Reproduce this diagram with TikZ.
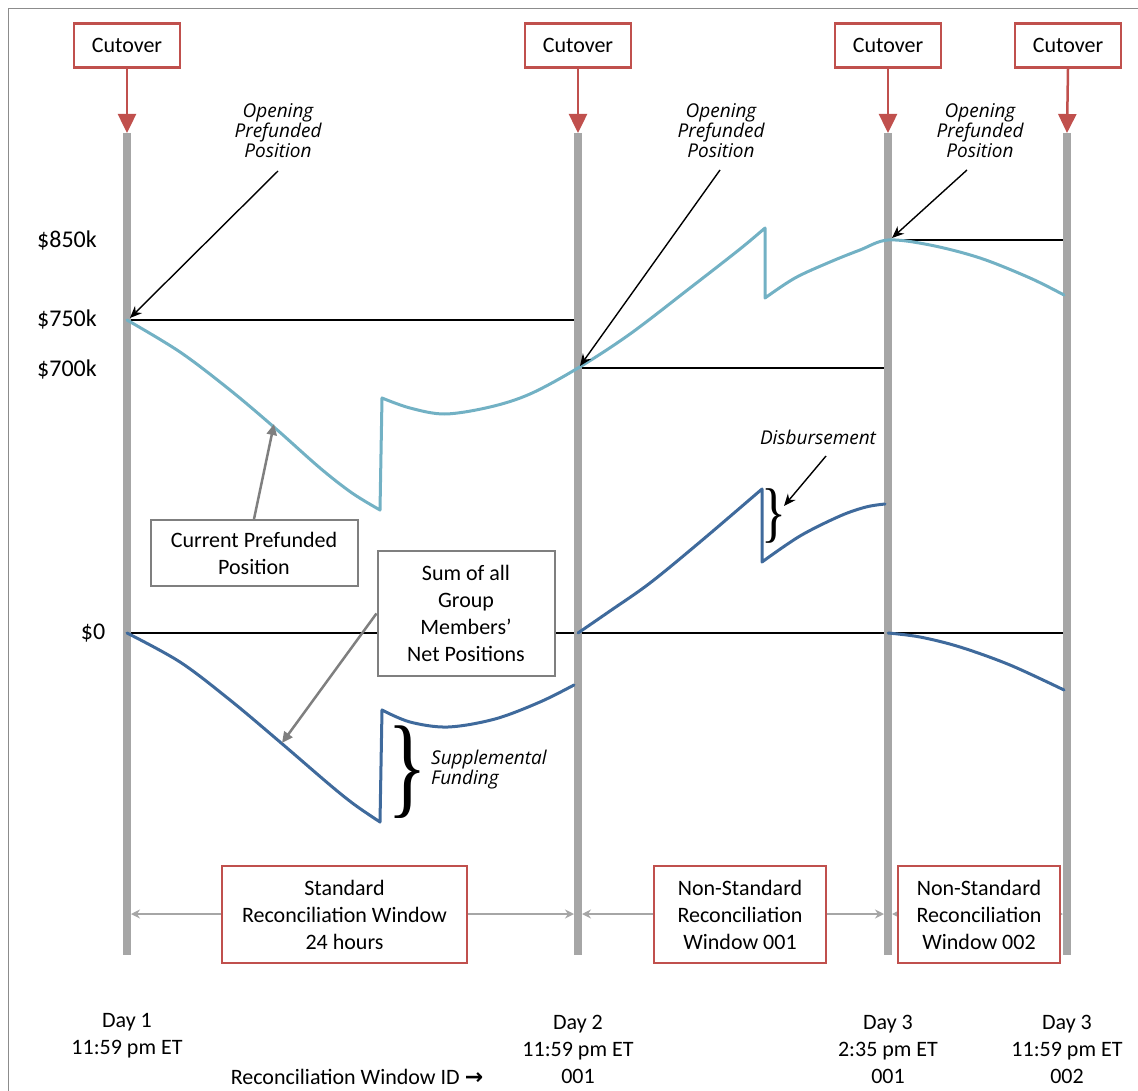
\documentclass[tikz,border=0pt]{standalone}
\usepackage{fontspec}
\setmainfont{Carlito}
\newfontfamily\notefont{Open Sans}
\newfontfamily\symfont{DejaVu Sans}
\newfontfamily\bracefont{Liberation Serif}
\usetikzlibrary{arrows.meta}

\definecolor{cutred}{HTML}{C0504D}
\definecolor{bargray}{HTML}{A6A6A6}
\definecolor{prefund}{HTML}{72B1C4}
\definecolor{netpos}{HTML}{3F6A9C}
\definecolor{boxgray}{HTML}{7F7F7F}
\definecolor{framegray}{HTML}{8C8C8C}

\begin{document}
\begin{tikzpicture}[x=1pt,y=-1pt,
  txt/.style={font=\fontsize{22}{27}\selectfont, align=center, inner sep=0pt},
  money/.style={font=\fontsize{24}{27}\selectfont, inner sep=0pt},
  note/.style={font=\notefont\itshape\fontsize{19}{20}\selectfont, align=center, inner sep=0pt},
  cutbox/.style={draw=cutred, line width=2.5pt, fill=white, minimum width=106pt,
    minimum height=44pt, font=\fontsize{22}{27}\selectfont, inner sep=0pt},
  winbox/.style={draw=cutred, line width=2pt, fill=white, minimum height=97pt,
    align=center, font=\fontsize{22}{27}\selectfont, inner sep=0pt},
  graybox/.style={draw=boxgray, line width=2pt, fill=white, align=center,
    font=\fontsize{22}{27}\selectfont, inner sep=0pt},
  cutarrow/.style={draw=cutred, line width=2.5pt, -{Triangle[length=19pt,width=18pt]}},
  timebar/.style={draw=bargray, line width=8pt},
  level/.style={draw=black, line width=1.3pt},
  openarrow/.style={draw=black, line width=1.4pt, -{Stealth[length=12pt,width=10pt]}},
  grayarrow/.style={draw=boxgray, line width=2.5pt, -{Triangle[length=11pt,width=10pt]}},
  span/.style={draw=bargray, line width=2pt, {Stealth[length=9pt,width=9pt]}-{Stealth[length=9pt,width=9pt]}},
  prefline/.style={draw=prefund, line width=3pt, line join=round, line cap=round},
  netline/.style={draw=netpos, line width=3pt, line join=round, line cap=round},
  bracemark/.style={inner sep=0pt}
]
\useasboundingbox (0,0) rectangle (1138,1091);

% frame
\draw[framegray, line width=1pt] (8,1091) -- (8,9) -- (1138,9);

% time bars
\coordinate (b1t) at (127,133); \coordinate (b1b) at (127,955);
\coordinate (b2t) at (578,133); \coordinate (b2b) at (578,955);
\coordinate (b3t) at (888,133); \coordinate (b3b) at (888,955);
\coordinate (b4t) at (1067,133); \coordinate (b4b) at (1067,955);

% level lines
\coordinate (l750a) at (127,320); \coordinate (l750b) at (574,320);
\coordinate (l700a) at (578,368); \coordinate (l700b) at (885,368);
\coordinate (l850a) at (888,240); \coordinate (l850b) at (1064,240);
\coordinate (l0a) at (127,633); \coordinate (l0b) at (1064,633);
\draw[level] (l750a) -- (l750b);
\draw[level] (l700a) -- (l700b);
\draw[level] (l850a) -- (l850b);
\draw[level] (l0a) -- (l0b);

\draw[timebar] (b1t) -- (b1b);
\draw[timebar] (b2t) -- (b2b);
\draw[timebar] (b3t) -- (b3b);
\draw[timebar] (b4t) -- (b4b);

% cutover markers
\node[cutbox] (c1) at (127,45.5) {Cutover};
\node[cutbox] (c2) at (578,45.5) {Cutover};
\node[cutbox] (c3) at (888,45.5) {Cutover};
\node[cutbox] (c4) at (1068,45.5) {Cutover};
\draw[cutarrow] (c1.south) -- (b1t);
\draw[cutarrow] (c2.south) -- (b2t);
\draw[cutarrow] (c3.south) -- (b3t);
\draw[cutarrow] (c4.south) -- (b4t);

% value labels
\node[money] (v850) at (67,241) {\$850k};
\node[money] (v750) at (67,320) {\$750k};
\node[money] (v700) at (67,370) {\$700k};
\node[money] (v0) at (93,633) {\$0};

% current prefunded position
\draw[prefline] plot[smooth, tension=0.55] coordinates {(127,320) (180,352) (230,390) (275,428) (320,468) (352,493) (380,510)}
  -- plot[smooth, tension=0.55] coordinates {(382,398) (410,408) (445,414) (490,407) (530,394) (578,368) (630,334) (690,288) (740,249) (765,228)}
  -- plot[smooth, tension=0.55] coordinates {(765,298) (795,278) (830,262) (860,250) (888,240) (930,245) (980,258) (1030,278) (1064,295)};

% sum of net positions
\draw[netline] plot[smooth, tension=0.55] coordinates {(127,633) (180,662) (230,700) (280,742) (330,785) (355,805) (380,822)}
  -- plot[smooth, tension=0.55] coordinates {(382,710) (410,722) (448,727) (495,719) (540,702) (574,685)};
\draw[netline] plot[smooth, tension=0.55] coordinates {(578,633) (610,611) (650,583) (700,542) (762,489)}
  -- plot[smooth, tension=0.55] coordinates {(762,562) (800,536) (840,516) (866,507) (885,504)};
\draw[netline] plot[smooth, tension=0.55] coordinates {(888,633) (920,637) (960,647) (1010,665) (1064,690)};

% opening prefunded position notes
\node[note] (op1) at (278,131) {Opening\\Prefunded\\Position};
\node[note] (op2) at (721,131) {Opening\\Prefunded\\Position};
\node[note] (op3) at (980,131) {Opening\\Prefunded\\Position};
\coordinate (op1s) at (278,171); \coordinate (op1e) at (130,318);
\coordinate (op2s) at (720,170); \coordinate (op2e) at (580,366);
\coordinate (op3s) at (967,170); \coordinate (op3e) at (892,238);
\draw[openarrow] (op1s) -- (op1e);
\draw[openarrow] (op2s) -- (op2e);
\draw[openarrow] (op3s) -- (op3e);

% callout boxes
\node[graybox, minimum width=207pt, minimum height=66pt] (cpp) at (254,553) {Current Prefunded\\Position};
\node[graybox, minimum width=177pt, minimum height=125pt] (sum) at (466,613.5) {Sum of all\\Group\\Members’\\Net Positions};
\coordinate (cppt) at (274,424);
\coordinate (sumt) at (282,743);
\draw[grayarrow] (cpp.north) -- (cppt);
\draw[grayarrow] (sum.west) -- (sumt);

% disbursement
\node[note] (dis) at (818,437) {Disbursement};
\coordinate (diss) at (826,456); \coordinate (dise) at (784,506);
\draw[openarrow] (diss) -- (dise);
\node[bracemark] (dbrace) at (774,516) {\scalebox{1.3}[1.65]{\bracefont\fontsize{40}{40}\selectfont\}}};

% supplemental funding
\node[bracemark] (sbrace) at (407,772) {\scalebox{1.3}[1.75]{\bracefont\fontsize{64}{64}\selectfont\}}};
\node[note, align=left, anchor=west] (sup) at (431,770) {Supplemental\\Funding};

% reconciliation window spans
\coordinate (s1a) at (131,914); \coordinate (s1b) at (574,914);
\coordinate (s2a) at (582,914); \coordinate (s2b) at (884,914);
\coordinate (s3a) at (892,914); \coordinate (s3b) at (1063,914);
\draw[span] (s1a) -- (s1b);
\draw[span] (s2a) -- (s2b);
\draw[span] (s3a) -- (s3b);
\node[winbox, minimum width=245pt] (w1) at (344.5,914.5) {Standard\\Reconciliation Window\\24 hours};
\node[winbox, minimum width=172pt] (w2) at (740,914.5) {Non-Standard\\Reconciliation\\Window 001};
\node[winbox, minimum width=162pt] (w3) at (979,914.5) {Non-Standard\\Reconciliation\\Window 002};

% time stamps
\node[txt] (d1) at (127,1036) {Day 1\\11:59 pm ET};
\node[txt] (d2) at (578,1049) {Day 2\\11:59 pm ET\\001};
\node[txt] (d3) at (888,1049) {Day 3\\2:35 pm ET\\001};
\node[txt] (d4) at (1067,1049) {Day 3\\11:59 pm ET\\002};
\node[txt] (rwid) at (357,1077) {Reconciliation Window ID {\symfont\bfseries →}};
\end{tikzpicture}
\end{document}
